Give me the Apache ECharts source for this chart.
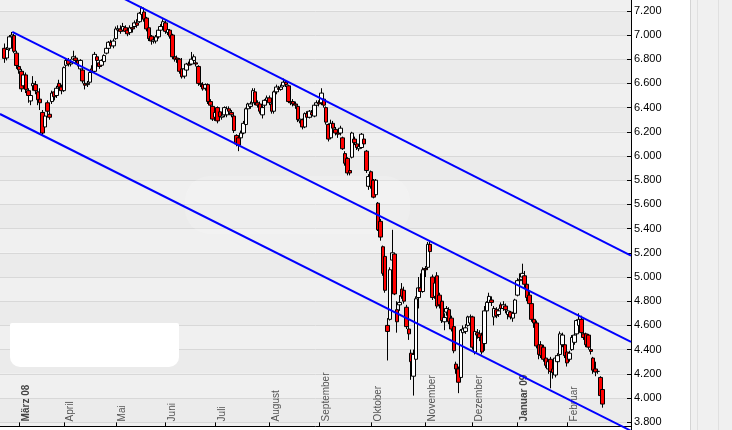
<!DOCTYPE html>
<html><head><meta charset="utf-8">
<script src="https://cdn.jsdelivr.net/npm/echarts@6/dist/echarts.min.js"></script>
<style>html,body{margin:0;padding:0;background:#fff}#c{width:732px;height:430px}</style>
</head><body><div id="c"></div>
<script>
// Daily candles [open, close, low, high], trading-day index = position (0 = 22 Feb 2008)
const ohlc = [
// Feb 2008
[6890,6807,6770,6930],[6810,6880,6790,6900],[6890,6985,6870,7000],[6985,7000,6950,7025],[6995,6865,6850,7010],[6850,6748,6720,6870],
// Mar 2008
[6740,6712,6680,6770],[6700,6555,6530,6720],[6580,6670,6560,6700],[6670,6550,6520,6690],[6540,6500,6440,6560],
[6455,6500,6420,6520],[6580,6600,6540,6660],[6590,6540,6510,6620],[6530,6465,6420,6550],[6470,6440,6380,6560],
[6360,6190,6170,6380],[6240,6330,6200,6360],[6440,6370,6340,6460],[6345,6320,6300,6370],[6450,6520,6430,6540],
[6530,6490,6460,6550],[6500,6560,6480,6580],[6600,6570,6550,6630],[6570,6540,6510,6590],
// Apr 2008
[6540,6730,6530,6740],[6750,6790,6730,6810],[6790,6760,6740,6810],[6760,6770,6740,6800],[6800,6820,6790,6870],
[6810,6790,6770,6830],[6790,6760,6740,6800],[6720,6790,6700,6800],[6710,6620,6600,6720],[6600,6585,6550,6620],
[6590,6600,6570,6620],[6610,6690,6600,6700],[6720,6700,6690,6750],[6700,6840,6690,6860],[6820,6790,6760,6840],
[6770,6740,6720,6790],[6750,6790,6740,6800],[6780,6830,6770,6840],[6850,6890,6840,6900],[6890,6940,6880,6950],
[6940,6910,6890,6960],[6910,6950,6890,6970],
// May 2008
[6970,7050,6960,7070],[7040,7050,7020,7080],[7050,7030,7010,7080],[7040,7070,7030,7100],[7060,7030,7010,7080],
[7040,7010,6990,7060],[7020,7060,7000,7080],[7060,7050,7020,7090],[7070,7100,7060,7120],[7100,7080,7060,7130],
[7110,7180,7100,7190],[7170,7225,7160,7235],[7190,7130,7110,7210],[7140,7050,7030,7150],[7060,6970,6950,7070],
[6990,6950,6920,7000],[6950,6960,6930,6980],[6950,6985,6930,7000],[6985,7040,6970,7050],[7040,7070,7020,7090],
[7070,7110,7050,7130],
// Jun 2008
[7100,7030,7010,7120],[7020,7045,7000,7060],[7040,6990,6970,7050],[7000,6820,6800,7010],[6820,6800,6780,6840],
[6810,6800,6770,6830],[6800,6700,6680,6810],[6720,6655,6640,6810],[6660,6720,6640,6740],[6710,6760,6700,6770],
[6760,6750,6730,6780],[6760,6800,6750,6860],[6790,6820,6770,6840],[6770,6760,6740,6790],[6740,6600,6580,6750],
[6600,6590,6570,6620],[6590,6555,6540,6610],[6560,6590,6540,6600],[6590,6450,6430,6600],[6450,6420,6400,6470],
[6410,6305,6290,6420],
// Jul 2008
[6320,6360,6290,6380],[6400,6290,6270,6410],[6365,6325,6300,6380],[6320,6330,6300,6350],[6340,6400,6320,6410],
[6340,6390,6320,6410],[6390,6370,6350,6410],[6360,6340,6320,6380],[6330,6210,6190,6340],[6170,6100,6080,6180],
[6150,6090,6040,6170],[6150,6190,6120,6210],[6190,6270,6180,6290],[6260,6390,6250,6400],[6390,6430,6370,6440],
[6410,6430,6390,6450],[6440,6540,6430,6560],[6530,6440,6420,6560],[6440,6420,6400,6460],[6430,6370,6350,6450],
[6340,6400,6310,6420],[6420,6460,6400,6470],[6460,6480,6440,6500],
// Aug 2008
[6480,6440,6420,6500],[6430,6370,6350,6440],[6370,6530,6350,6540],[6530,6570,6510,6590],[6560,6550,6530,6580],
[6550,6570,6540,6590],[6580,6610,6570,6640],[6610,6590,6570,6620],[6580,6450,6440,6590],[6450,6440,6420,6470],
[6450,6430,6410,6470],[6430,6420,6390,6450],[6410,6300,6280,6420],[6290,6305,6270,6330],[6300,6240,6220,6310],
[6240,6350,6230,6360],[6350,6320,6300,6370],[6320,6370,6310,6380],[6360,6340,6320,6380],[6330,6420,6320,6430],
[6420,6440,6410,6460],
// Sep 2008
[6440,6430,6410,6460],[6440,6520,6420,6560],[6470,6420,6400,6500],[6400,6280,6260,6410],[6260,6140,6120,6270],
[6150,6270,6140,6300],[6270,6230,6200,6290],[6220,6190,6170,6240],[6190,6180,6150,6200],[6190,6230,6170,6250],
[6150,6060,6050,6160],[6020,5940,5920,6040],[5980,5860,5840,5990],[5880,5860,5840,5890],[5990,6190,5980,6200],
[6140,6110,6090,6160],[6100,6070,6050,6120],[6060,6080,6040,6100],[6070,6180,6060,6190],[6140,6100,6080,6160],
[6040,5880,5860,6050],[5750,5830,5720,5850],
// Oct 2008
[5870,5750,5730,5880],[5800,5660,5650,5810],[5680,5800,5670,5810],[5610,5390,5380,5620],[5460,5330,5300,5480],
[5250,5030,5010,5260],[5170,4890,4870,5190],[4600,4550,4310,4660],[4650,5060,4640,5080],[5140,5200,5120,5390],
[5190,4860,4850,5200],[4730,4630,4540,4800],[4770,4790,4720,4850],[4900,4840,4820,4950],[4890,4800,4780,4920],
[4750,4590,4570,4770],[4570,4530,4480,4600],[4370,4300,4150,4400],[4180,4360,4020,4400],[4320,4820,4300,4840],
[4830,4910,4740,5000],[4910,4880,4850,5030],[4880,5060,4870,5080],
// Nov 2008
[5070,5060,5000,5090],[5080,5270,5060,5290],[5270,5210,5180,5300],[5000,4830,4810,5020],[4840,4950,4820,4970],
[5010,4760,4740,5040],[4850,4770,4740,4870],[4800,4640,4620,4820],[4630,4665,4560,4700],[4710,4740,4680,4760],
[4730,4630,4610,4750],[4660,4570,4550,4680],[4590,4390,4370,4600],[4280,4240,4200,4300],[4240,4130,4040,4260],
[4170,4560,4150,4570],[4540,4570,4510,4600],[4550,4580,4530,4610],[4600,4670,4590,4680],[4620,4670,4600,4690],
// Dec 2008
[4670,4420,4400,4680],[4380,4550,4360,4570],[4540,4520,4490,4570],[4530,4500,4470,4560],[4520,4380,4360,4540],
[4450,4720,4390,4760],[4720,4790,4700,4800],[4790,4840,4770,4870],[4810,4790,4760,4840],[4670,4740,4600,4760],
[4730,4680,4660,4750],[4690,4720,4670,4740],[4770,4740,4720,4790],[4740,4770,4720,4800],[4760,4730,4700,4780],
[4690,4720,4650,4730],[4710,4670,4650,4720],[4660,4700,4630,4710],[4700,4810,4690,4820],
// Jan 2009
[4850,4970,4840,4990],[4970,4980,4930,5030],[5000,5030,4980,5110],[5010,4940,4910,5050],[4940,4830,4800,4960],
[4850,4780,4760,4880],[4780,4650,4630,4790],[4650,4620,4580,4680],[4620,4430,4410,4640],[4440,4360,4320,4470],
[4440,4350,4330,4470],[4420,4320,4300,4440],[4330,4270,4250,4350],[4240,4300,4200,4320],[4320,4220,4080,4340],
[4240,4210,4160,4260],[4190,4330,4170,4350],[4300,4350,4280,4370],[4360,4530,4350,4550],[4440,4520,4420,4540],
[4440,4350,4330,4460],
// Feb 2009
[4380,4290,4260,4400],[4320,4370,4300,4390],[4400,4500,4390,4520],[4460,4520,4440,4540],[4530,4640,4520,4650],
[4600,4650,4580,4700],[4650,4540,4520,4680],[4530,4500,4480,4550],[4530,4440,4420,4540],[4520,4420,4400,4530],
[4400,4385,4360,4420],[4330,4230,4200,4340],[4240,4215,4180,4300],[4220,4220,4200,4230],[4170,4020,4010,4180],
[4070,3950,3920,4080]
];

// Month ticks (trading-day index of first day of month) and labels
const monthStartIdx = [6, 25, 47, 68, 89, 112, 133, 155, 178, 198, 217, 238];
const monthLabels = ['März 08','April','Mai','Juni','Juli','August','September','Oktober','November','Dezember','Januar 09','Februar'];
const boldLabels = ['März 08','Januar 09'];

// Trend channel lines [index, value]
const upperLine = [[45, 7354], [265, 5176]];
const middleLine = [[3.2, 7025], [265, 4463]];
const lowerLine = [[-2, 6347], [265, 3729]];

const labelShift = 2.9;
const labelPos = monthStartIdx.map(v => v + labelShift);
const candleData = ohlc.map((d, i) => [i, d[0], d[1], d[2], d[3]]);
const FONT = 'Liberation Sans, Arial, sans-serif';

function fmtY(v) {
  const s = String(Math.round(v));
  return s.slice(0, -3) + '.' + s.slice(-3);
}

const chart = echarts.init(document.getElementById('c'), null, {renderer: 'canvas'});
chart.setOption({
  animation: false,
  backgroundColor: '#ffffff',
  grid: {left: 0, right: 101, top: -13.4, bottom: -16.4, containLabel: false, outerBoundsMode: 'none'},
  xAxis: {
    type: 'value', min: -2, max: 265, offset: -20,
    axisLine: {show: true, onZero: false, lineStyle: {color: '#000', width: 1}},
    axisTick: {show: true, inside: true, length: 4, lineStyle: {color: '#000'}, customValues: monthStartIdx},
    axisLabel: {
      show: true, inside: true, rotate: 90, margin: 5, color: '#555', fontSize: 10, fontFamily: FONT,
      customValues: labelPos,
      formatter: function (v) {
        let k = 0, best = 1e9;
        labelPos.forEach((p, j) => { if (Math.abs(p - v) < best) { best = Math.abs(p - v); k = j; } });
        const t = monthLabels[k];
        return boldLabels.indexOf(t) >= 0 ? '{b|' + t + '}' : t;
      },
      rich: {b: {fontWeight: 'bold', fontSize: 10, color: '#444', fontFamily: FONT}}
    },
    splitLine: {show: false}
  },
  yAxis: {
    type: 'value', position: 'right', min: 3600, max: 7400, interval: 200,
    axisLine: {show: true, onZero: false, lineStyle: {color: '#000', width: 1}},
    axisTick: {show: true, inside: true, length: 4, lineStyle: {color: '#000'}},
    axisLabel: {margin: 3, color: '#000', fontSize: 11, fontFamily: FONT, formatter: fmtY},
    splitLine: {show: true, lineStyle: {color: '#d8d8d8', width: 1}},
    splitArea: {show: true, areaStyle: {color: ['#f0f0f0', '#ebebeb']}}
  },
  graphic: [
    {type: 'rect', shape: {x: 690, y: 0, width: 42, height: 430}, style: {fill: '#f0f0f0'}, z: 0},
    {type: 'line', shape: {x1: 690.5, y1: 0, x2: 690.5, y2: 430}, style: {stroke: '#d4d4d4', lineWidth: 1}, z: 0},
    {type: 'line', shape: {x1: 697.5, y1: 0, x2: 697.5, y2: 430}, style: {stroke: '#e0e0e0', lineWidth: 1}, z: 0},
    {type: 'line', shape: {x1: 718.5, y1: 0, x2: 718.5, y2: 430}, style: {stroke: '#e0e0e0', lineWidth: 1}, z: 0},
    {type: 'rect', shape: {x: 0, y: 427, width: 631, height: 3}, style: {fill: '#fff'}, z: 1},
    {type: 'rect', shape: {x: 10, y: 323, width: 169, height: 44, r: [2, 2, 10, 10]}, style: {fill: '#fff'}, z: 1},
    {type: 'rect', shape: {x: 185, y: 176, width: 225, height: 58, r: 25}, style: {fill: 'rgba(255,255,255,0.18)'}, z: 1}
  ],
  series: [
    {
      type: 'candlestick', data: candleData, encode: {x: 0, y: [1, 2, 3, 4]}, barWidth: 4,
      itemStyle: {color: '#ffffff', color0: '#ff0000', borderColor: '#000', borderColor0: '#000', borderWidth: 1},
      z: 2
    },
    {type: 'line', data: upperLine, symbol: 'none', lineStyle: {color: '#0000ff', width: 2}, z: 3, silent: true},
    {type: 'line', data: middleLine, symbol: 'none', lineStyle: {color: '#0000ff', width: 2}, z: 3, silent: true},
    {type: 'line', data: lowerLine, symbol: 'none', lineStyle: {color: '#0000ff', width: 2}, z: 3, silent: true}
  ]
});
</script>
</body></html>
